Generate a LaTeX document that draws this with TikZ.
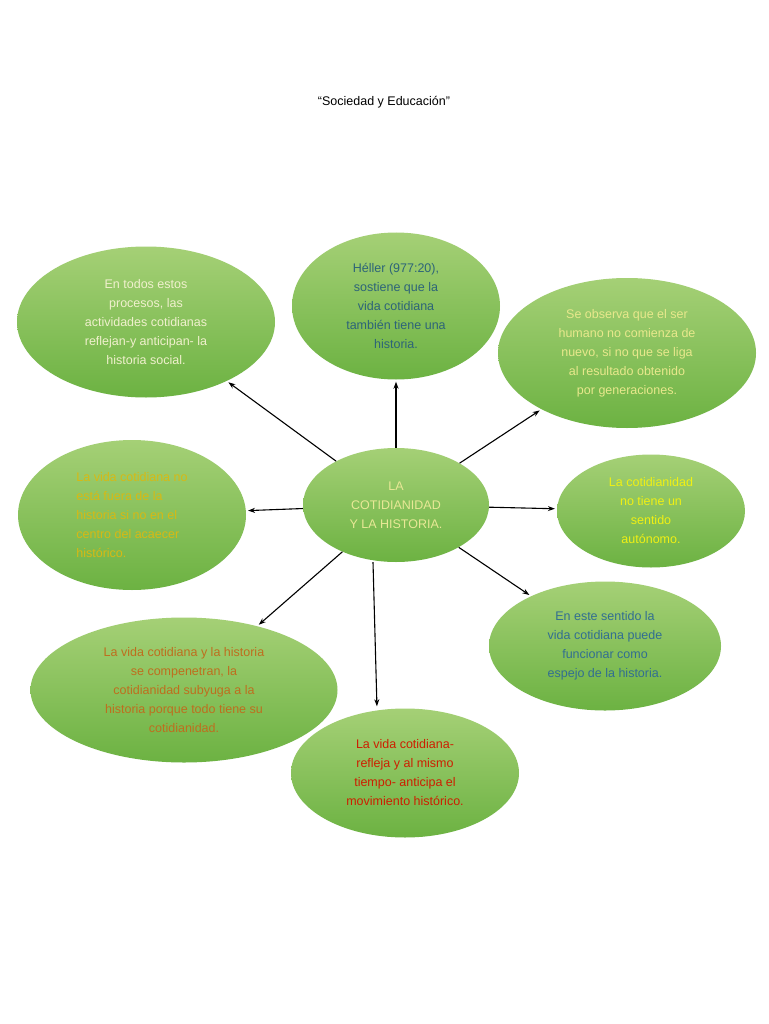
\documentclass[tikz,border=0pt]{standalone}
\usepackage{fontspec}
\setmainfont{Liberation Sans}
\usetikzlibrary{shapes.geometric,arrows.meta}
\definecolor{gtop}{RGB}{165,208,118}
\definecolor{gbot}{RGB}{108,178,66}
\definecolor{tTL}{RGB}{240,240,205}
\definecolor{tTop}{RGB}{45,100,120}
\definecolor{tTR}{RGB}{232,232,140}
\definecolor{tL}{RGB}{215,185,20}
\definecolor{tC}{RGB}{232,232,150}
\definecolor{tR}{RGB}{240,240,20}
\definecolor{tBR}{RGB}{50,110,145}
\definecolor{tBL}{RGB}{190,110,30}
\definecolor{tB}{RGB}{205,30,0}
\begin{document}
\begin{tikzpicture}[x=1pt,y=-1pt,
  bub/.style={ellipse,inner sep=0pt,top color=gtop,bottom color=gbot,draw=none,align=center,font=\fontsize{12.5}{19}\selectfont},
  arr/.style={-{Stealth[length=7pt,width=5pt]},line width=1.1pt,shorten >=2pt}]
\useasboundingbox (0,0) rectangle (768,1024);
\fill[white] (0,0) rectangle (768,1024);
\node[font=\fontsize{12.5}{15}\selectfont] (title) at (384,102) {“Sociedad y Educación”};
\node[bub,minimum width=258,minimum height=151,text=tTL] (tl) at (146,322) {En todos estos\\procesos, las\\actividades cotidianas\\reflejan-y anticipan- la\\historia social.};
\node[bub,minimum width=208,minimum height=147,text=tTop] (top) at (396,306) {Héller (977:20),\\sostiene que la\\vida cotidiana\\también tiene una\\historia.};
\node[bub,minimum width=258,minimum height=150,text=tTR] (tr) at (627,353) {Se observa que el ser\\humano no comienza de\\nuevo, si no que se liga\\al resultado obtenido\\por generaciones.};
\node[bub,minimum width=228,minimum height=150,text=tL,align=left] (l) at (132,515) {La vida cotidiana no\\está fuera de la\\historia si no en el\\centro del acaecer\\histórico.};
\node[bub,minimum width=186,minimum height=114,text=tC] (c) at (396,505) {LA\\COTIDIANIDAD\\Y LA HISTORIA.};
\node[bub,minimum width=188,minimum height=113,text=tR] (r) at (651,511) {La cotidianidad\\no tiene un\\sentido\\autónomo.};
\node[bub,minimum width=232,minimum height=129,text=tBR] (br) at (605,646) {En este sentido la\\vida cotidiana puede\\funcionar como\\espejo de la historia.};
\node[bub,minimum width=307,minimum height=145,text=tBL] (bl) at (184,690) {La vida cotidiana y la historia\\se compenetran, la\\cotidianidad subyuga a la\\historia porque todo tiene su\\cotidianidad.};
\node[bub,minimum width=228,minimum height=129,text=tB] (b) at (405,773) {La vida cotidiana-\\refleja y al mismo\\tiempo- anticipa el\\movimiento histórico.};
\path (c.south) ++(-23,0) coordinate (cb);
\path (b.north) ++(-28,0) coordinate (bt);
\draw[arr] (c) -- (tl);
\draw[arr] (c) -- (top);
\draw[arr] (c) -- (tr);
\draw[arr] (c) -- (l);
\draw[arr] (c) -- (r);
\draw[arr] (c) -- (br);
\draw[arr] (c) -- (bl);
\draw[arr] (cb) -- (bt);
\end{tikzpicture}
\end{document}
